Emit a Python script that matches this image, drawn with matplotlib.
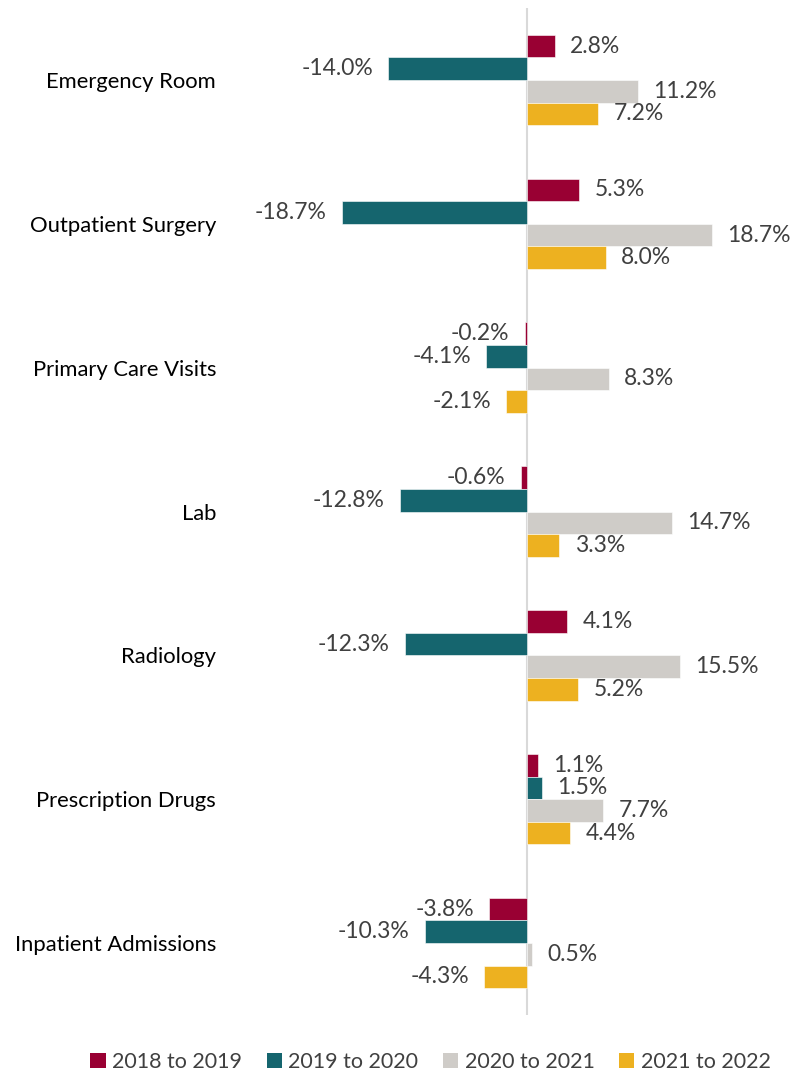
import matplotlib.pyplot as plt
from matplotlib.patches import Patch
import numpy as np

plt.rcParams["font.family"] = ["Lato", "DejaVu Sans"]

categories = [
    "Emergency Room",
    "Outpatient Surgery",
    "Primary Care Visits",
    "Lab",
    "Radiology",
    "Prescription Drugs",
    "Inpatient Admissions",
]
series_names = ["2018 to 2019", "2019 to 2020", "2020 to 2021", "2021 to 2022"]
v_2018_2019 = [2.8, 5.3, -0.2, -0.6, 4.1, 1.1, -3.8]
v_2019_2020 = [-14.0, -18.7, -4.1, -12.8, -12.3, 1.5, -10.3]
v_2020_2021 = [11.2, 18.7, 8.3, 14.7, 15.5, 7.7, 0.5]
v_2021_2022 = [7.2, 8.0, -2.1, 3.3, 5.2, 4.4, -4.3]
series = [v_2018_2019, v_2019_2020, v_2020_2021, v_2021_2022]
colors = ["#990033", "#15656E", "#CFCCC8", "#EDB120"]
text_color = "#404040"

fig = plt.figure(figsize=(7.9, 10.75), dpi=100)
ax = fig.add_axes([237 / 790, 60 / 1075, 548 / 790, 1007 / 1075])

y = np.arange(len(categories))
h = 0.157
for i, (vals, col) in enumerate(zip(series, colors)):
    pos = y + (i - 1.5) * h
    ax.barh(pos, vals, height=h, color=col, edgecolor="white", linewidth=0.4)
    for p, v in zip(pos, vals):
        off = 11 if v >= 0 else -11
        ax.annotate(f"{v:.1f}%", (v, p), xytext=(off, 0), textcoords="offset points",
                    ha="left" if v >= 0 else "right", va="center",
                    fontsize=16.5, color=text_color)

ax.axvline(0, color="#D9D9D9", lw=1.5, zorder=0)
ax.set_xlim(-29.3, 26.1)
ax.set_ylim(len(categories) - 0.5, -0.5)
ax.set_yticks(y)
ax.set_yticklabels(categories, fontsize=15.8, color="black")
ax.tick_params(axis="y", length=0, pad=15)
ax.set_xticks([])
for s in ax.spines.values():
    s.set_visible(False)

handles = [Patch(facecolor=c, label=n) for c, n in zip(colors, series_names)]
fig.legend(handles=handles, loc="lower center", bbox_to_anchor=(0.545, -0.015),
           ncol=4, frameon=False, fontsize=15.5, handlelength=0.7,
           handleheight=0.7, handletextpad=0.3, columnspacing=1.15,
           labelcolor=text_color)

fig.savefig("out.png", dpi=100)
